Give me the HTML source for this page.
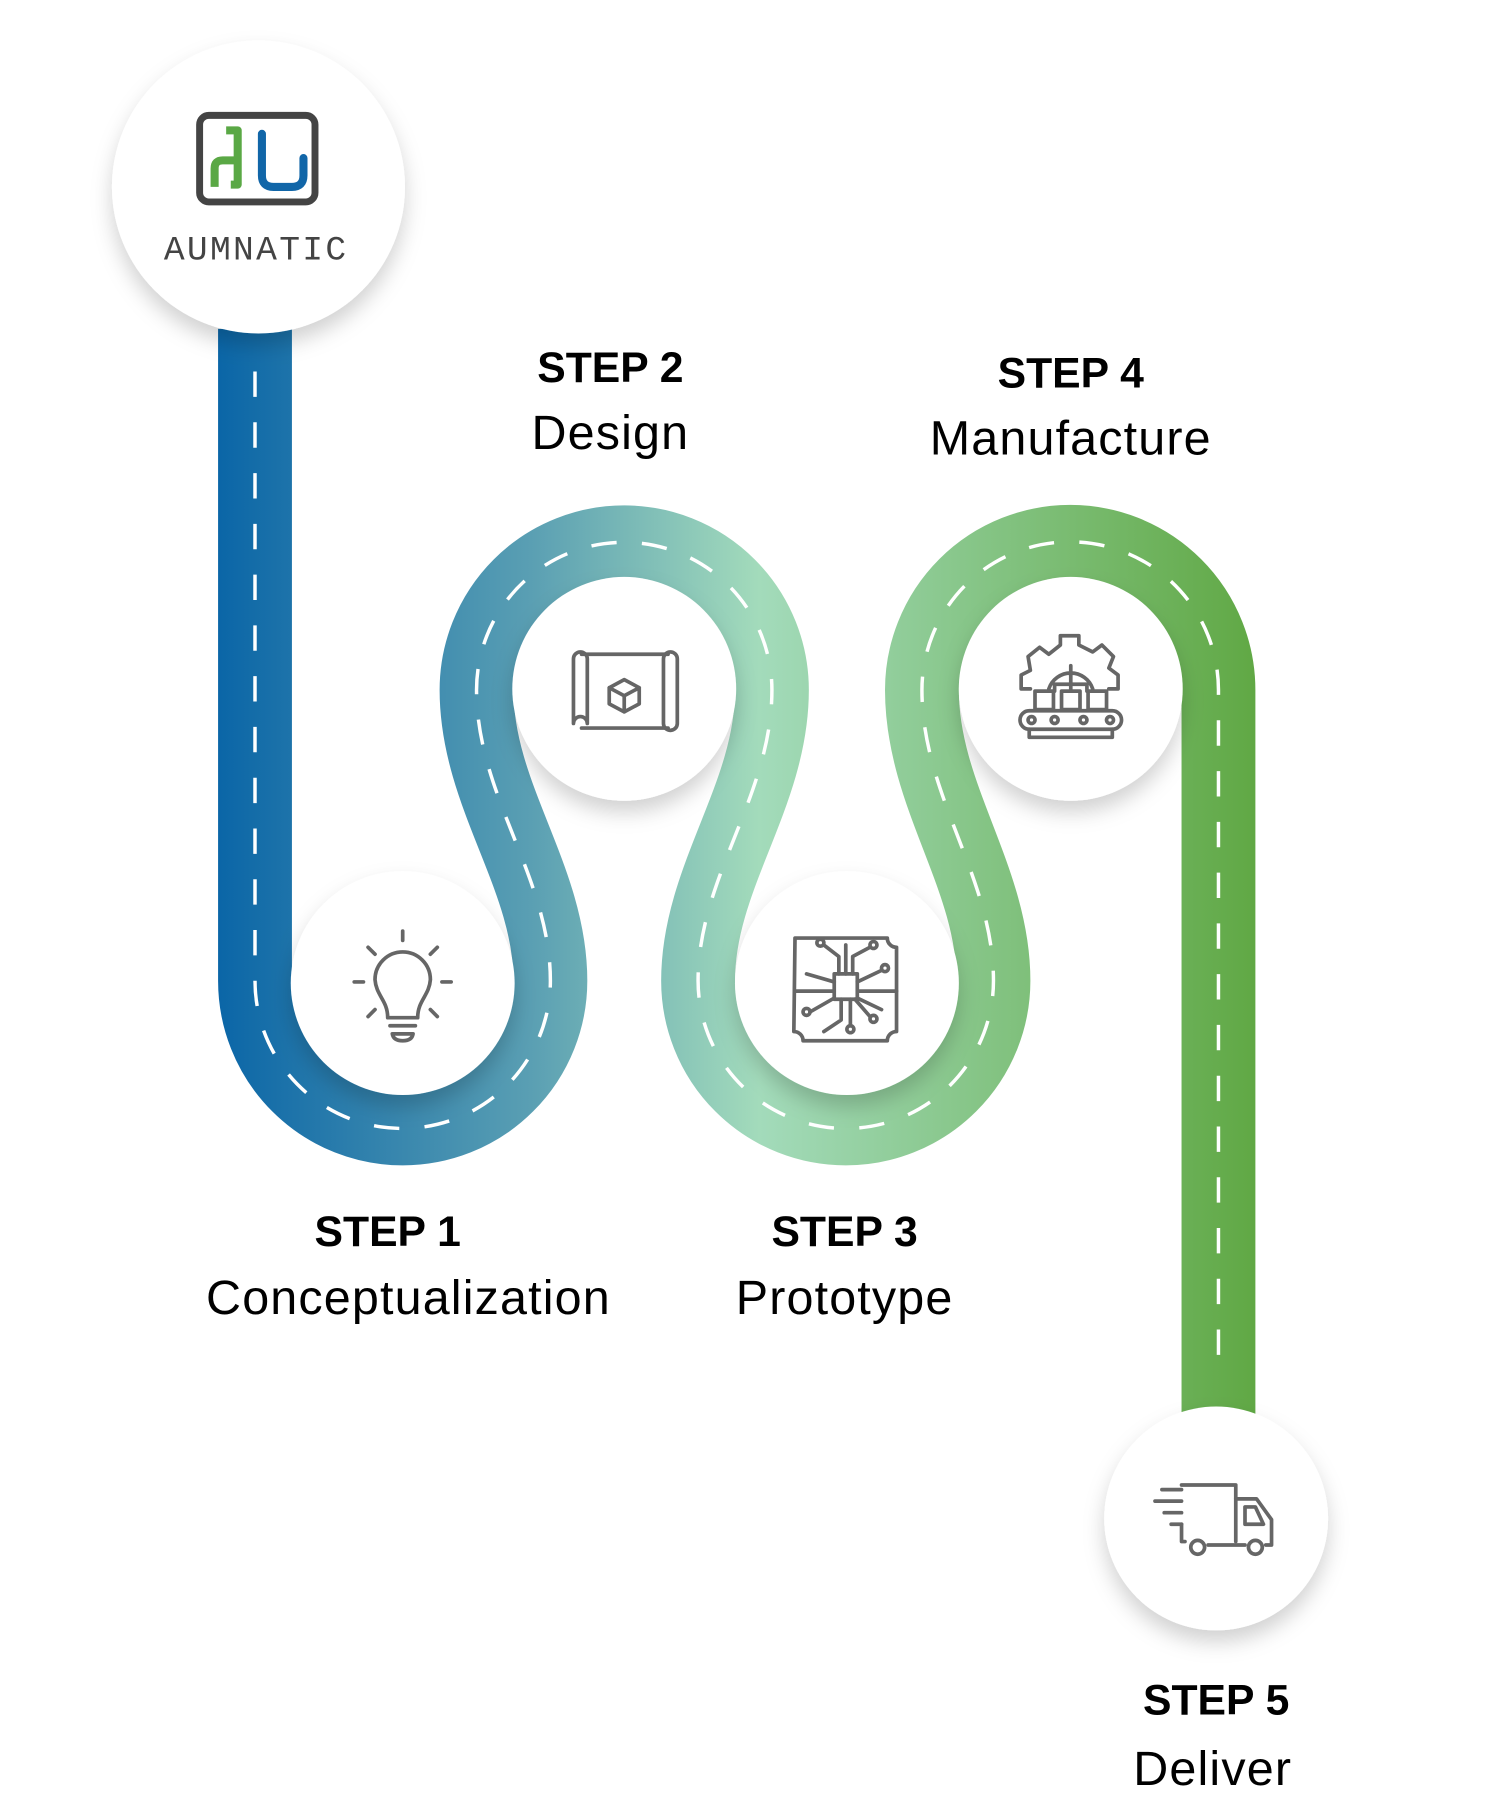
<!DOCTYPE html>
<html><head><meta charset="utf-8"><style>
html,body{margin:0;padding:0;background:#fff;width:1500px;height:1800px;overflow:hidden}
svg{display:block}
.t{font-family:"Liberation Sans",sans-serif;text-anchor:middle;fill:#000}
.b{font-weight:bold;font-size:37px}
.l{font-size:42px;letter-spacing:1px}
.ic{fill:none;stroke:#666;stroke-width:3.2;stroke-linecap:round;stroke-linejoin:round}
</style></head><body>
<svg width="1500" height="1800" viewBox="0 0 1300 1560" xmlns="http://www.w3.org/2000/svg">
<defs>
<linearGradient id="g" gradientUnits="userSpaceOnUse" x1="190" y1="0" x2="1090" y2="0">
<stop offset="0" stop-color="#0b66a7"/>
<stop offset="0.3" stop-color="#5a9fb3"/>
<stop offset="0.52" stop-color="#a3dbbb"/>
<stop offset="0.7" stop-color="#8ac88e"/>
<stop offset="1" stop-color="#60a844"/>
</linearGradient>
<filter id="sh" x="-30%" y="-30%" width="160%" height="170%">
<feDropShadow dx="0" dy="10" stdDeviation="9" flood-color="#000" flood-opacity="0.18"/>
</filter>
</defs>
<path d="M221 285 L221 850 A128 128 0 0 0 477 850 C477 760 413 690 413 598 A128 128 0 0 1 669 598 C669 690 605 760 605 850 A128 128 0 0 0 861 850 C861 760 799 690 799 598 A128 128 0 0 1 1056 598 L1056 1230" fill="none" stroke="url(#g)" stroke-width="64"/>
<path d="M221 322 L221 850 A128 128 0 0 0 477 850 C477 760 413 690 413 598 A128 128 0 0 1 669 598 C669 690 605 760 605 850 A128 128 0 0 0 861 850 C861 760 799 690 799 598 A128 128 0 0 1 1056 598 L1056 1190" fill="none" stroke="#fff" stroke-width="3" stroke-dasharray="22 22"/>
<g filter="url(#sh)" fill="#fff">
<circle cx="224" cy="162" r="127"/>
<circle cx="349" cy="852" r="97"/>
<circle cx="541" cy="597" r="97"/>
<circle cx="734" cy="852" r="97"/>
<circle cx="928" cy="597" r="97"/>
<circle cx="1054" cy="1316" r="97"/>
</g>
<!-- logo -->
<rect x="173" y="100" width="100" height="75" rx="8" fill="none" stroke="#444" stroke-width="6"/>
<path d="M186 162 L186 146 Q186 139 193 139 L206 139 L206 113 L196 113 M206 139 L206 160 L200 160" fill="none" stroke="#5aa845" stroke-width="7" stroke-linejoin="round"/>
<path d="M227 116 L227 152 Q227 162 237 162 L253 162 Q263 162 263 152 L263 137" fill="none" stroke="#1166a8" stroke-width="7" stroke-linecap="round"/>
<text x="222" y="225" font-family="Liberation Mono,monospace" font-size="30" fill="#444" text-anchor="middle" letter-spacing="2">AUMNATIC</text>
<!-- bulb -->
<g class="ic">
<path d="M336 882 C336 867 326 863 325 849 A24 24 0 1 1 373 849 C372 863 362 867 362 882 Z"/>
<path d="M338 889 L360 889 M340 896 L358 896 Q357 902 349 902 Q341 902 340 896"/>
<path d="M349 807 L349 815 M307 851 L315 851 M383 851 L391 851 M319 821 L325 827 M379 821 L373 827 M319 881 L325 875 M379 881 L373 875"/>
</g>
<!-- blueprint -->
<g class="ic">
<path d="M504 567 L579 567 M504 631 L579 631"/>
<path d="M497 627 L497 571 A6 6 0 0 1 509 571 L509 627 A6 6 0 0 0 497 627 Z"/>
<path d="M575 627 L575 571 A6 6 0 0 1 587 571 L587 627 A6 6 0 0 1 575 627 Z"/>
<path d="M541 589 L554 596 L554 610 L541 617 L528 610 L528 596 Z M528 596 L541 603 L554 596 M541 603 L541 617"/>
</g>
<!-- chip -->
<g class="ic" stroke-width="2.6">
<path d="M689 813 L769 813 A8 8 0 0 0 777 821 L777 894 A8 8 0 0 0 769 902 L696 902 A8 8 0 0 0 688 894 Z"/>
<rect x="723" y="844" width="20" height="22"/>
<path d="M727 844 L727 829 L714 819 M733 844 L733 819 M739 844 L739 829 L754 821 M743 851 L764 841 M743 859 L777 859 M743 865 L764 875 M723 851 L699 844 M723 859 L689 859 M723 865 L702 877 M729 866 L729 884 L714 894 M737 866 L737 889 M741 866 L754 881"/>
<circle cx="711" cy="817" r="3"/><circle cx="757" cy="819" r="3"/><circle cx="767" cy="839" r="3"/><circle cx="699" cy="877" r="3"/><circle cx="757" cy="883" r="3"/><circle cx="737" cy="892" r="3"/>
</g>
<!-- factory -->
<g class="ic" stroke-width="2.6">
<path d="M893 597 L885 597 L885 585 L893 581 L891 569 L901 561 L909 567 L919 559 L919 551 L935 551 L935 559 L947 565 L955 559 L965 569 L961 579 L969 585 L969 597 L961 597"/>
<path d="M909 597 A20 20 0 0 1 947 597 M928 577 L928 589 M914 593 L942 593 L942 599 M914 593 L914 599 M928 589 L928 599"/>
<rect x="897" y="599" width="16" height="16"/><rect x="920" y="599" width="16" height="16"/><rect x="943" y="599" width="16" height="16"/>
<rect x="884" y="616" width="88" height="16" rx="8"/>
<path d="M892 632 L892 639 L964 639 L964 632"/>
<circle cx="894" cy="624" r="3"/><circle cx="914" cy="624" r="3"/><circle cx="939" cy="624" r="3"/><circle cx="962" cy="624" r="3"/>
</g>
<!-- truck -->
<g class="ic" stroke-width="2.8">
<path d="M1024 1287 L1071 1287 L1071 1336 M1027 1336 L1024 1336 L1024 1321"/>
<path d="M1071 1299 L1089 1299 L1102 1317 L1102 1339 L1097 1339 M1079 1339 L1047 1339"/>
<path d="M1079 1306 L1088 1306 L1095 1321 L1079 1321 Z"/>
<circle cx="1038" cy="1341" r="6"/><circle cx="1088" cy="1341" r="6"/>
<path d="M1007 1291 L1024 1291 M1001 1301 L1024 1301 M1009 1311 L1024 1311 M1015 1321 L1024 1321"/>
</g>
<!-- labels -->
<text class="t b" x="336" y="1080">STEP 1</text>
<text class="t l" x="354" y="1139">Conceptualization</text>
<text class="t b" x="529" y="331">STEP 2</text>
<text class="t l" x="529" y="389">Design</text>
<text class="t b" x="732" y="1080">STEP 3</text>
<text class="t l" x="732" y="1139">Prototype</text>
<text class="t b" x="928" y="336">STEP 4</text>
<text class="t l" x="928" y="394">Manufacture</text>
<text class="t b" x="1054" y="1486">STEP 5</text>
<text class="t l" x="1051" y="1547">Deliver</text>
</svg>
</body></html>
